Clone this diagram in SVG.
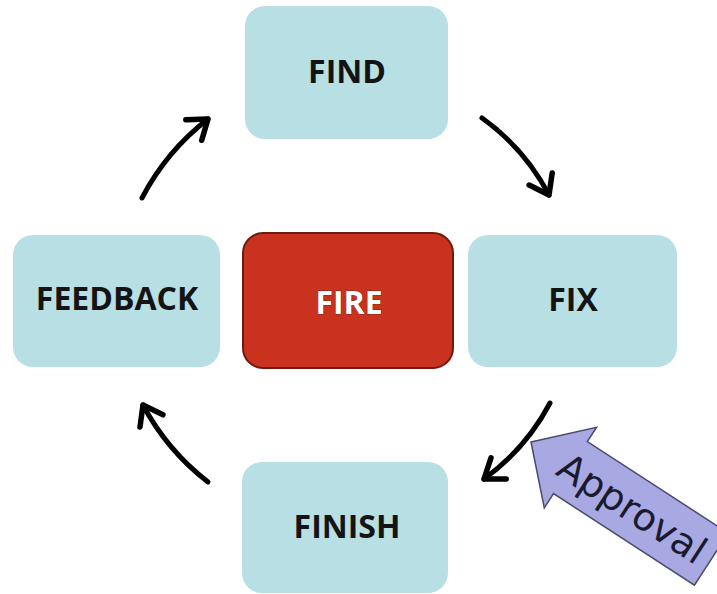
<svg xmlns="http://www.w3.org/2000/svg" width="717" height="594" viewBox="0 0 717 594">
  <style>
    .box { fill: #b8dfe3; }
    .label { font-family: "Open Sans", "Noto Sans", "Liberation Sans", sans-serif; font-weight: bold; font-size: 32px; text-anchor: middle; fill: #141414; }
    .fire-label { fill: #ffffff; stroke: #8a2a18; stroke-width: 1; paint-order: stroke; }
    .conn { fill: none; stroke: #000; stroke-width: 5; stroke-linecap: round; marker-end: url(#chev); }
  </style>
  <defs>
    <marker id="chev" markerUnits="userSpaceOnUse" viewBox="-24 -16 30 32" refX="0" refY="0" markerWidth="30" markerHeight="32" orient="auto" overflow="visible">
      <path d="M-18,-13 L0,0 L-18,13" fill="none" stroke="#000" stroke-width="5.5" stroke-linecap="round" stroke-linejoin="round"/>
    </marker>
  </defs>
  <rect width="717" height="594" fill="#ffffff"/>

  <g id="find">
    <rect class="box" x="245" y="6" width="203" height="133" rx="20"/>
    <text class="label" x="347" y="83">FIND</text>
  </g>
  <g id="fire">
    <rect x="243" y="233" width="210" height="135" rx="20" fill="#c9321f" stroke="#6e1a0e" stroke-width="2"/>
    <text class="label fire-label" x="349" y="314">FIRE</text>
  </g>
  <g id="feedback">
    <rect class="box" x="13" y="235" width="207" height="132" rx="20"/>
    <text class="label" x="117" y="310">FEEDBACK</text>
  </g>
  <g id="fix">
    <rect class="box" x="468" y="235" width="209" height="132" rx="20"/>
    <text class="label" x="573" y="311">FIX</text>
  </g>
  <g id="finish">
    <rect class="box" x="242" y="462" width="206" height="131" rx="20"/>
    <text class="label" x="347" y="538">FINISH</text>
  </g>

  <g id="connectors">
    <path class="conn" d="M142,198 A240,240 0 0,1 208,119"/>
    <path class="conn" d="M482,118 A220,220 0 0,1 549,195"/>
    <path class="conn" d="M550,403 A220,220 0 0,1 484,479"/>
    <path class="conn" d="M208,482 A240,240 0 0,1 143,405"/>
  </g>

  <g id="approval" transform="translate(531,442) rotate(33)">
    <path d="M0,0 L47,-48 L47,-31 L215,-31 L215,31 L47,31 L47,48 Z" fill="#a8a8e2" stroke="#4a4a6a" stroke-width="1.5" stroke-linejoin="miter"/>
    <text x="121" y="14" font-family="DejaVu Sans, Verdana, sans-serif" font-size="38" text-anchor="middle" fill="#1a1a2e">Approval</text>
  </g>
</svg>
